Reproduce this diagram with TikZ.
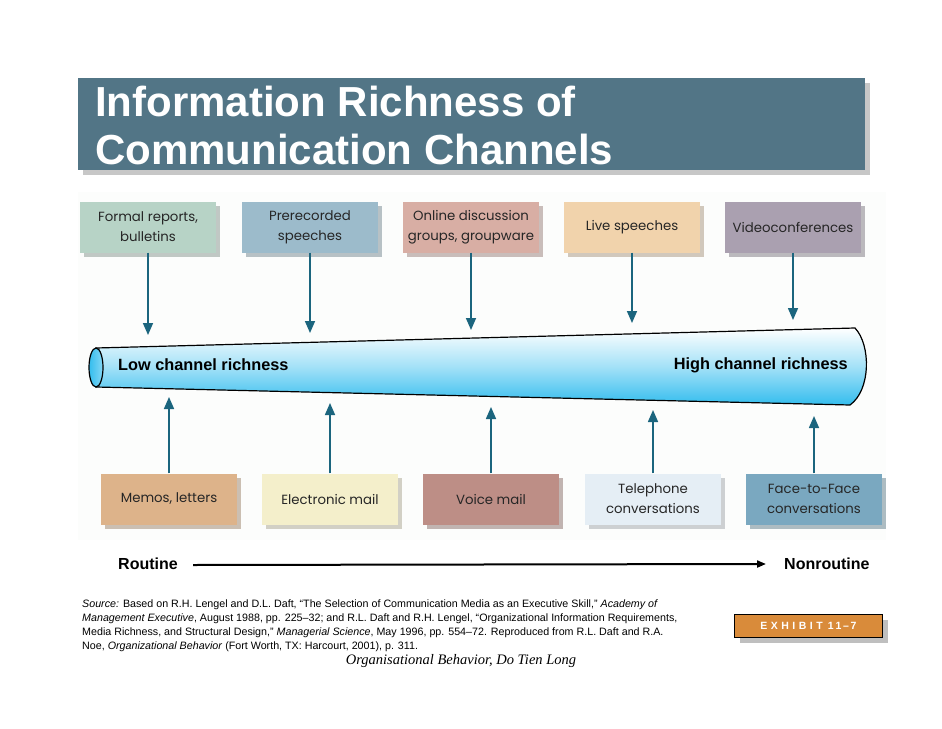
\documentclass[tikz,border=0pt]{standalone}
\usepackage{fontspec}
\setmainfont{Liberation Sans}
\newfontfamily\boxfont{Poppins}
\newfontfamily\seriffont{Liberation Serif}
\usetikzlibrary{arrows.meta,shadows}
\definecolor{titlebg}{HTML}{527586}
\definecolor{arrowc}{HTML}{1B657E}
\definecolor{cA}{HTML}{B7D3C6}
\definecolor{cB}{HTML}{9CBBCB}
\definecolor{cC}{HTML}{D8AEA4}
\definecolor{cD}{HTML}{F1D3AC}
\definecolor{cE}{HTML}{AAA0B0}
\definecolor{cF}{HTML}{DDB38A}
\definecolor{cG}{HTML}{F4EFCB}
\definecolor{cH}{HTML}{BD8E86}
\definecolor{cI}{HTML}{E5EEF5}
\definecolor{cJ}{HTML}{7AA8C0}
\definecolor{tubec}{HTML}{34BDEE}
\definecolor{exhc}{HTML}{D98B3A}
\definecolor{panel}{HTML}{FCFDFC}
\tikzset{
  chbox/.style={fill=#1, minimum width=136pt, minimum height=51pt, inner sep=0pt, align=center,
    font=\boxfont\fontsize{13.3}{20}\selectfont, text=black!85,
    drop shadow={shadow xshift=4pt, shadow yshift=-4pt, opacity=0.45, fill=#1!65!black}},
  downarrow/.style={draw=arrowc, line width=1.6pt, -{Triangle[width=10pt,length=12pt]}},
  richlabel/.style={font=\bfseries\fontsize{16.3}{19}\selectfont, inner sep=0pt},
  axislabel/.style={font=\bfseries\fontsize{16}{18}\selectfont, anchor=west, inner sep=0pt}
}
\begin{document}
\begin{tikzpicture}[x=1pt,y=-1pt]
\useasboundingbox (0,0) rectangle (942,728);
\fill[white] (0,0) rectangle (942,728);
\fill[panel] (78,192) rectangle (886,540);
% title
\fill[black!22] (83,83) rectangle (870,175);
\node[fill=titlebg, minimum width=787pt, minimum height=92pt, inner sep=0pt, anchor=north west] (title) at (78,78) {};
\node[anchor=base west, text=white, font=\bfseries\fontsize{42}{47}\selectfont, inner sep=0pt] (t1) at (95,116) {Information Richness of};
\node[anchor=base west, text=white, font=\bfseries\fontsize{42}{47}\selectfont, inner sep=0pt] (t2) at (95,164) {Communication Channels};
% tube
\shade[top color=white, bottom color=tubec, middle color=white!55!tubec, draw=black, line width=1.2pt]
  (96,348) -- (855,328) .. controls (871,345) and (871,390) .. (850,405) -- (96,387) -- cycle;
\shade[left color=tubec, right color=white!40!tubec, draw=black, line width=1.2pt] (96,367.5) ellipse [x radius=7, y radius=19.5];
\node[richlabel, anchor=west] (low) at (118,365) {Low channel richness};
\node[richlabel, anchor=east] (high) at (848,365) {High channel richness};
% top boxes
\node[chbox=cA] (b1) at (148,227) {Formal reports,\\bulletins};
\node[chbox=cB] (b2) at (310,227) {Prerecorded\\speeches};
\node[chbox=cC] (b3) at (471,227) {Online discussion\\groups, groupware};
\node[chbox=cD] (b4) at (632,227) {Live speeches};
\node[chbox=cE] (b5) at (793,227) {Videoconferences};
\coordinate (d1) at (148,335);
\coordinate (d2) at (310,333);
\coordinate (d3) at (471,330);
\coordinate (d4) at (632,323);
\coordinate (d5) at (793,320);
\foreach \i in {1,...,5} \draw[downarrow] (b\i.south) -- (b\i.south |- d\i);
% bottom boxes
\node[chbox=cF] (c1) at (169,499) {Memos, letters};
\node[chbox=cG] (c2) at (330,499) {Electronic mail};
\node[chbox=cH] (c3) at (491,499) {Voice mail};
\node[chbox=cI] (c4) at (653,499) {Telephone\\conversations};
\node[chbox=cJ] (c5) at (814,499) {Face-to-Face\\conversations};
\coordinate (u1) at (169,397);
\coordinate (u2) at (330,403);
\coordinate (u3) at (491,407);
\coordinate (u4) at (653,410);
\coordinate (u5) at (814,416);
\foreach \i in {1,...,5} \draw[downarrow] (c\i.north) -- (c\i.north |- u\i);
% routine axis
\node[axislabel] (rt) at (118,564) {Routine};
\node[axislabel] (nrt) at (784,564) {Nonroutine};
\draw[line width=2pt, -{Triangle[width=7pt,length=9pt]}] (rt.east -| 193,0) ++(0,1) -- (nrt.west -| 766,0) ;
% source
\begin{scope}[every node/.style={anchor=base west, inner sep=0pt, font=\fontsize{10.7}{14}\selectfont}]
\node (s1) at (82,607) {\textit{Source:} Based on R.H. Lengel and D.L. Daft, “The Selection of Communication Media as an Executive Skill,” \textit{Academy of}};
\node (s2) at (82,621) {\textit{Management Executive}, August 1988, pp. 225–32; and R.L. Daft and R.H. Lengel, “Organizational Information Requirements,};
\node (s3) at (82,635) {Media Richness, and Structural Design,” \textit{Managerial Science}, May 1996, pp. 554–72. Reproduced from R.L. Daft and R.A.};
\node (s4) at (82,649) {Noe, \textit{Organizational Behavior} (Fort Worth, TX: Harcourt, 2001), p. 311.};
\end{scope}
\node[anchor=base, inner sep=0pt, font=\seriffont\itshape\fontsize{14.5}{16}\selectfont] (foot) at (461,664) {Organisational Behavior, Do Tien Long};
% exhibit
\fill[black!25] (740,620) rectangle (888,643);
\node[fill=exhc, draw=black, line width=0.8pt, minimum width=148pt, minimum height=23pt, inner sep=0pt, anchor=north west,
  text=white, font=\bfseries\fontsize{10.5}{12}\selectfont] (exh) at (734,614) {E\,\,X\,\,H\,\,I\,\,B\,\,I\,\,T\,\,\,1\,1\,–\,7};
\end{tikzpicture}
\end{document}
